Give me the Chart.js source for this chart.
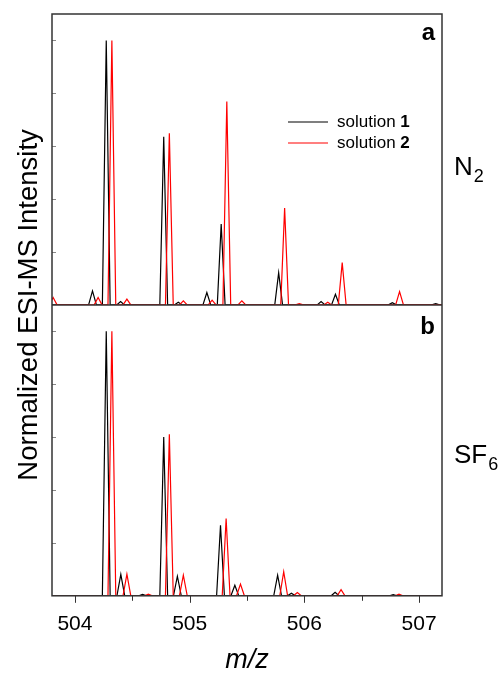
<!DOCTYPE html>
<html>
<head>
<meta charset="utf-8">
<script src="https://cdn.jsdelivr.net/npm/chart.js@4.4.1/dist/chart.umd.min.js"></script>
<style>
  body { margin: 0; background: #fff; }
  canvas { display: block; }
</style>
</head>
<body>
<canvas id="esims_data" width="501" height="676"></canvas>
<script>
// m/z range and axis ticks
var mzRange = [503.8, 507.2];
var xTickLabels = [504, 505, 506, 507];
var xMinorTicks = [504.5, 505.5, 506.5];
var yTickMarks = [0.2, 0.4, 0.6, 0.8, 1.0];

var seriesLabels = ['solution 1', 'solution 2'];
var panelGas = ['N', 'SF'];
var panelGasSub = ['2', '6'];
var panelLetters = ['a', 'b'];

// panel a (N2): peak m/z and normalized intensity
var aSol1Mz  = [504.153, 504.273, 504.398, 504.774, 504.901, 505.150, 505.275, 505.776, 506.146, 506.271, 506.767, 507.145];
var aSol1Int = [0.053,   1.000,   0.013,   0.636,   0.010,   0.047,   0.306,   0.122,   0.013,   0.040,   0.008,   0.005];
var aSol2Mz  = [503.810, 504.202, 504.322, 504.453, 504.823, 504.945, 505.196, 505.324, 505.455, 505.828, 505.956, 506.204, 506.330, 506.830];
var aSol2Int = [0.028,   0.028,   1.000,   0.022,   0.649,   0.015,   0.018,   0.769,   0.015,   0.366,   0.005,   0.010,   0.160,   0.050];

// panel b (SF6)
var bSol1Mz  = [504.273, 504.400, 504.590, 504.774, 504.893, 505.269, 505.394, 505.767, 505.887, 506.268, 506.775];
var bSol1Int = [1.000,   0.081,   0.005,   0.600,   0.074,   0.267,   0.040,   0.078,   0.010,   0.013,   0.004];
var bSol2Mz  = [504.322, 504.453, 504.640, 504.823, 504.945, 505.318, 505.443, 505.820, 505.939, 506.320, 506.825];
var bSol2Int = [1.000,   0.082,   0.006,   0.611,   0.078,   0.292,   0.044,   0.091,   0.012,   0.023,   0.006];

var peakHalfWidth = 0.034;

// baseline - apex - baseline for every peak
function profile(mz, inten) {
    var pts = [{x: mzRange[0] - 0.2, y: 0}];
    for (var i = 0; i < mz.length; i++) {
        pts.push({x: mz[i] - peakHalfWidth, y: 0});
        pts.push({x: mz[i], y: inten[i]});
        pts.push({x: mz[i] + peakHalfWidth, y: 0});
    }
    pts.push({x: mzRange[1] + 0.2, y: 0});
    return pts;
}

function line(label, data, color, axis, order) {
    return {
        label: label,
        data: data,
        yAxisID: axis,
        borderColor: color,
        borderWidth: 1.2,
        pointRadius: 0,
        tension: 0,
        fill: false,
        order: order
    };
}

var FONT = '"Liberation Sans", Arial, sans-serif';

const decor = {
    id: 'decor',
    afterDatasetsDraw: function(chart) {
        var ctx = chart.ctx, ca = chart.chartArea;
        var x = chart.scales.x, ya = chart.scales.ya, yb = chart.scales.yb;
        ctx.save();

        // small inward ticks on the left axis
        ctx.strokeStyle = '#888';
        ctx.lineWidth = 1;
        [ya, yb].forEach(function(s) {
            yTickMarks.forEach(function(v) {
                var py = Math.round(s.getPixelForValue(v)) + 0.5;
                ctx.beginPath();
                ctx.moveTo(ca.left, py);
                ctx.lineTo(ca.left + 4, py);
                ctx.stroke();
            });
        });

        // outward ticks on the bottom axis
        ctx.strokeStyle = '#333';
        xTickLabels.forEach(function(v) {
            var px = Math.round(x.getPixelForValue(v)) + 0.5;
            ctx.beginPath();
            ctx.moveTo(px, ca.bottom);
            ctx.lineTo(px, ca.bottom + 7);
            ctx.stroke();
        });
        xMinorTicks.forEach(function(v) {
            var px = Math.round(x.getPixelForValue(v)) + 0.5;
            ctx.beginPath();
            ctx.moveTo(px, ca.bottom);
            ctx.lineTo(px, ca.bottom + 5);
            ctx.stroke();
        });

        // frame + divider
        ctx.strokeStyle = '#333';
        ctx.lineWidth = 1.5;
        ctx.strokeRect(ca.left, ca.top, ca.right - ca.left, ca.bottom - ca.top);
        ctx.beginPath();
        ctx.moveTo(ca.left, ya.bottom);
        ctx.lineTo(ca.right, ya.bottom);
        ctx.stroke();

        // panel letters
        ctx.fillStyle = '#000';
        ctx.textAlign = 'right';
        ctx.textBaseline = 'alphabetic';
        ctx.font = 'bold 24px ' + FONT;
        ctx.fillText(panelLetters[0], ca.right - 7, ya.top + 26);
        ctx.fillText(panelLetters[1], ca.right - 7, yb.top + 29);

        // gas labels
        ctx.textAlign = 'left';
        var gasY = [175, 463];
        for (var i = 0; i < 2; i++) {
            ctx.font = '26px ' + FONT;
            var gx = ca.right + 12;
            ctx.fillText(panelGas[i], gx, gasY[i]);
            var w = ctx.measureText(panelGas[i]).width;
            ctx.font = '18px ' + FONT;
            ctx.fillText(panelGasSub[i], gx + w + 1, gasY[i] + 7);
        }

        // legend
        var colors = ['#000', '#ff0000'];
        var legY = [122, 143];
        for (var j = 0; j < 2; j++) {
            ctx.strokeStyle = colors[j];
            ctx.lineWidth = 1.2;
            ctx.beginPath();
            ctx.moveTo(288, legY[j]);
            ctx.lineTo(328, legY[j]);
            ctx.stroke();
            var parts = seriesLabels[j].split(' ');
            ctx.fillStyle = '#000';
            ctx.textBaseline = 'middle';
            ctx.font = '17px ' + FONT;
            var t = parts[0] + ' ';
            ctx.fillText(t, 337, legY[j]);
            var tw = ctx.measureText(t).width;
            ctx.font = 'bold 17px ' + FONT;
            ctx.fillText(parts[1], 337 + tw, legY[j]);
        }

        // x title
        ctx.textAlign = 'center';
        ctx.textBaseline = 'alphabetic';
        ctx.font = 'italic 27px ' + FONT;
        ctx.fillText('m/z', (ca.left + ca.right) / 2, 668);

        // y title
        ctx.translate(37, (ca.top + ca.bottom) / 2);
        ctx.rotate(-Math.PI / 2);
        ctx.font = '27.5px ' + FONT;
        ctx.fillText('Normalized ESI-MS Intensity', 0, 0);
        ctx.restore();
    }
};

const hiddenY = function(stackWeight) {
    return {
        type: 'linear',
        position: 'left',
        stack: 'panels',
        stackWeight: stackWeight,
        min: 0,
        max: 1.1,
        grid: { display: false, drawTicks: false },
        border: { display: false },
        ticks: { display: false }
    };
};

const config_esims = {
    type: 'line',
    data: {
        datasets: [
            line(seriesLabels[0], profile(aSol1Mz, aSol1Int), '#000000', 'ya', 2),
            line(seriesLabels[1], profile(aSol2Mz, aSol2Int), '#ff0000', 'ya', 1),
            line(seriesLabels[0], profile(bSol1Mz, bSol1Int), '#000000', 'yb', 2),
            line(seriesLabels[1], profile(bSol2Mz, bSol2Int), '#ff0000', 'yb', 1)
        ]
    },
    options: {
        responsive: false,
        animation: false,
        events: [],
        layout: { padding: { left: 52, right: 59, top: 14, bottom: 23 } },
        plugins: { legend: { display: false }, tooltip: { enabled: false } },
        scales: {
            x: {
                type: 'linear',
                min: mzRange[0],
                max: mzRange[1],
                afterBuildTicks: function(scale) {
                    scale.ticks = xTickLabels.map(function(v) { return {value: v}; });
                },
                grid: { display: false, drawTicks: false },
                border: { display: false },
                ticks: {
                    color: '#000',
                    padding: 16,
                    maxRotation: 0,
                    autoSkip: false,
                    font: { family: FONT, size: 21 },
                    callback: function(v) { return String(v); }
                }
            },
            // listed bottom panel first so that panel a sits on top
            yb: hiddenY(1),
            ya: hiddenY(1)
        }
    },
    plugins: [decor]
};

const esims_chart = new Chart(
    document.getElementById('esims_data'),
    config_esims
);
</script>
</body>
</html>
